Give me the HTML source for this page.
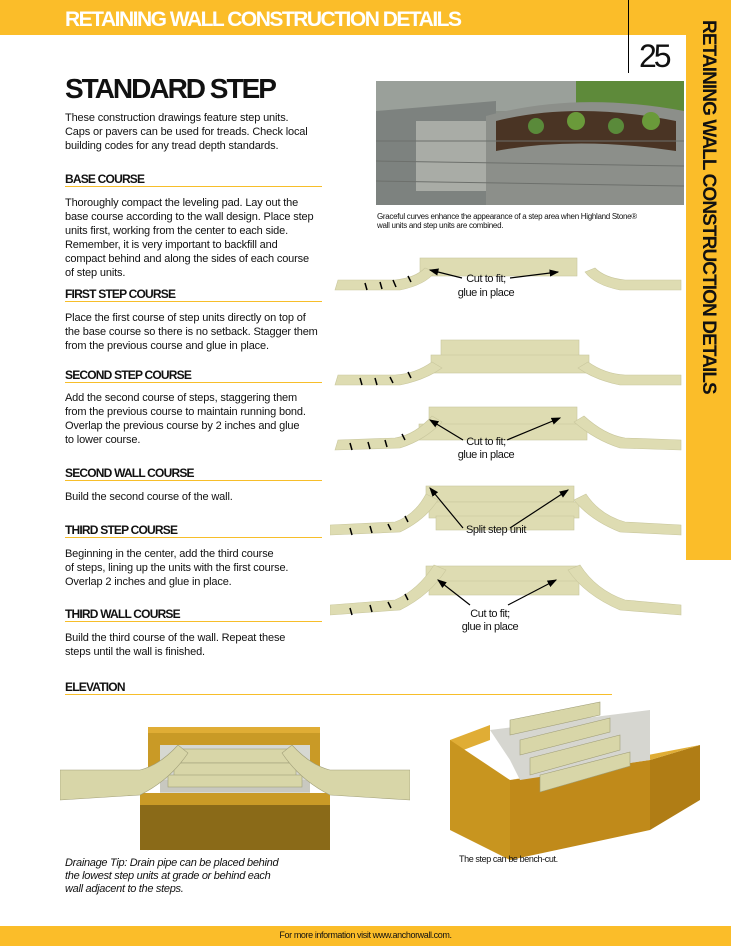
<!DOCTYPE html>
<html><head><meta charset="utf-8">
<style>
*{margin:0;padding:0}
body{width:731px;height:946px;position:relative;background:#fff;font-family:"Liberation Sans",sans-serif;overflow:hidden;color:#111}
.a{position:absolute}
.p{position:absolute;left:65px;font-size:11px;line-height:14px;letter-spacing:-0.15px;white-space:nowrap}
.h{position:absolute;left:65px;font-size:12px;font-weight:bold;letter-spacing:-0.8px;width:257px;border-bottom:1.5px solid #f7be2a;padding-bottom:0}
</style></head><body>
<div class="a" style="left:0;top:0;width:731px;height:35px;background:#fbbd29"></div>
<div class="a" style="left:65px;top:8px;color:#fff;font-size:21px;font-weight:bold;letter-spacing:-1.5px">RETAINING WALL CONSTRUCTION DETAILS</div>
<div class="a" style="left:628px;top:0;width:1px;height:73px;background:#000"></div>
<div class="a" style="left:686px;top:0;width:45px;height:560px;background:#fbbd29"></div>
<div class="a" style="left:686px;top:0;width:45px;height:560px;"><div style="position:absolute;left:33px;top:20px;transform:rotate(90deg);transform-origin:0 0;white-space:nowrap;font-size:19px;font-weight:bold;letter-spacing:-0.9px;color:#111">RETAINING WALL CONSTRUCTION DETAILS</div></div>
<div class="a" style="left:639px;top:38px;font-size:32px;letter-spacing:-3px">25</div>
<div class="a" style="left:65px;top:73px;font-size:28px;font-weight:bold;letter-spacing:-2px">STANDARD STEP</div>
<div class="p" style="top:111px">These construction drawings feature step units.<br>Caps or pavers can be used for treads. Check local<br>building codes for any tread depth standards.</div>
<div class="h" style="top:172px">BASE COURSE</div>
<div class="p" style="top:196px">Thoroughly compact the leveling pad. Lay out the<br>base course according to the wall design. Place step<br>units first, working from the center to each side.<br>Remember, it is very important to backfill and<br>compact behind and along the sides of each course<br>of step units.</div>
<div class="h" style="top:287px">FIRST STEP COURSE</div>
<div class="p" style="top:311px">Place the first course of step units directly on top of<br>the base course so there is no setback. Stagger them<br>from the previous course and glue in place.</div>
<div class="h" style="top:368px">SECOND STEP COURSE</div>
<div class="p" style="top:391px">Add the second course of steps, staggering them<br>from the previous course to maintain running bond.<br>Overlap the previous course by 2 inches and glue<br>to lower course.</div>
<div class="h" style="top:466px">SECOND WALL COURSE</div>
<div class="p" style="top:490px">Build the second course of the wall.</div>
<div class="h" style="top:523px">THIRD STEP COURSE</div>
<div class="p" style="top:547px">Beginning in the center, add the third course<br>of steps, lining up the units with the first course.<br>Overlap 2 inches and glue in place.</div>
<div class="h" style="top:607px">THIRD WALL COURSE</div>
<div class="p" style="top:631px">Build the third course of the wall. Repeat these<br>steps until the wall is finished.</div>
<div class="h" style="top:680px;width:547px">ELEVATION</div>

<svg class="a" style="left:376px;top:81px" width="308" height="124">
<rect width="308" height="124" fill="#8a8f88"/>
<rect width="308" height="30" fill="#9aa09a"/>
<rect x="200" y="0" width="108" height="50" fill="#5e8a3a"/>
<path d="M0 30 L120 20 L120 124 L0 124Z" fill="#7d827f"/>
<path d="M40 40 L110 40 L110 110 L40 110Z" fill="#a9aca6"/>
<path d="M110 35 Q200 10 308 30 L308 124 L110 124Z" fill="#8c8f8a"/>
<path d="M120 40 Q200 20 300 40 L300 70 Q200 55 120 70Z" fill="#4a3424"/>
<circle cx="160" cy="45" r="8" fill="#5a8a3a"/><circle cx="200" cy="40" r="9" fill="#6a9a3a"/><circle cx="240" cy="45" r="8" fill="#5a8a3a"/><circle cx="275" cy="40" r="9" fill="#6a9a3a"/>
<path d="M0 60 L308 60" stroke="#6d706c" stroke-width="1"/><path d="M0 80 L308 85" stroke="#6d706c"/><path d="M0 100 L308 105" stroke="#6d706c"/>
</svg>
<div class="a" style="left:377px;top:212px;font-size:8px;line-height:9px;letter-spacing:-0.3px;white-space:nowrap">Graceful curves enhance the appearance of a step area when Highland Stone®<br>wall units and step units are combined.</div>

<svg class="a" style="left:330px;top:250px" width="356" height="390">
<defs><marker id="ar" markerWidth="8" markerHeight="6" refX="7" refY="3" orient="auto"><path d="M0 0L8 3L0 6Z" fill="#000"/></marker></defs>
<g fill="#dedcb2" stroke="#c9c79d" stroke-width="0.6">
<rect x="90" y="8" width="157" height="18"/>
<path d="M5 40 L70 40 Q95 35 105 22 L95 18 Q85 28 65 30 L8 30Z"/>
<path d="M351 40 L290 40 Q265 35 255 22 L265 18 Q275 28 295 30 L351 30Z"/>
<rect x="111" y="90" width="138" height="16"/><rect x="101" y="105" width="158" height="18"/>
<path d="M5 135 L70 135 Q95 130 112 118 L102 112 Q85 124 65 125 L8 125Z"/>
<path d="M351 135 L290 135 Q265 130 248 118 L258 112 Q275 124 295 125 L351 125Z"/>
<rect x="99" y="157" width="148" height="18"/><rect x="89" y="174" width="168" height="16"/>
<path d="M5 200 L70 198 Q95 190 112 172 L102 166 Q85 185 65 188 L8 190Z"/>
<path d="M351 200 L290 198 Q265 190 244 172 L254 166 Q275 185 295 188 L351 190Z"/>
<rect x="96" y="236" width="148" height="16"/><rect x="99" y="252" width="150" height="16"/><rect x="106" y="266" width="138" height="14"/>
<path d="M0 285 L70 282 Q95 270 108 250 L96 244 Q85 265 65 272 L0 275Z"/>
<path d="M351 285 L290 282 Q260 270 244 250 L256 244 Q270 265 295 272 L351 275Z"/>
<rect x="96" y="316" width="152" height="16"/><rect x="99" y="331" width="150" height="14"/>
<path d="M0 365 L70 360 Q100 345 116 320 L104 315 Q88 340 65 350 L0 355Z"/>
<path d="M351 365 L290 360 Q255 345 238 320 L250 315 Q266 340 295 350 L351 355Z"/>
</g>
<g stroke="#000" stroke-width="1.5">
<path d="M35 33l2 7M50 32l2 7M63 30l3 7M78 26l3 6M30 128l2 7M45 128l2 7M60 127l3 6M78 122l3 6M20 193l2 7M38 192l2 7M55 190l2 7M72 184l3 6M20 278l2 7M40 276l2 7M58 274l3 6M75 266l3 6M20 358l2 7M40 355l2 7M58 352l3 6M75 344l3 6"/>
</g>
<g stroke="#000" stroke-width="1.2" fill="none" marker-end="url(#ar)">
<path d="M132 28 L100 20"/><path d="M180 28 L228 22"/>
<path d="M133 190 L100 170"/><path d="M177 190 L230 168"/>
<path d="M133 278 L100 238"/><path d="M180 278 L238 240"/>
<path d="M140 355 L108 330"/><path d="M178 355 L226 330"/>
</g>
<g font-size="11" text-anchor="middle" letter-spacing="-0.4" fill="#111">
<text x="156" y="32">Cut to fit;</text><text x="156" y="46">glue in place</text>
<text x="156" y="195">Cut to fit;</text><text x="156" y="208">glue in place</text>
<text x="166" y="283">Split step unit</text>
<text x="160" y="367">Cut to fit;</text><text x="160" y="380">glue in place</text>
</g>
</svg>

<svg class="a" style="left:60px;top:725px" width="350" height="125">
<rect x="88" y="5" width="172" height="40" fill="#c99a26"/>
<rect x="88" y="2" width="172" height="6" fill="#e0ad35"/>
<rect x="100" y="20" width="150" height="60" fill="#d6d8d2"/>
<rect x="80" y="68" width="190" height="62" fill="#8a6a18"/>
<rect x="80" y="68" width="190" height="12" fill="#c99a26"/>
<rect x="100" y="55" width="150" height="12" fill="#c8c8c0"/>
<g fill="#d8d6a8" stroke="#a09e78" stroke-width="0.6">
<rect x="120" y="24" width="110" height="14"/><rect x="114" y="38" width="122" height="14"/><rect x="108" y="50" width="134" height="12"/>
<path d="M0 45 L80 45 Q100 40 118 20 L128 28 Q110 55 80 70 L0 75Z"/>
<path d="M350 45 L270 45 Q250 40 232 20 L222 28 Q240 55 270 70 L350 75Z"/>
</g>
</svg>
<div class="a" style="left:65px;top:857px;font-size:11px;line-height:13px;font-style:italic;letter-spacing:-0.3px;white-space:nowrap">Drainage Tip: Drain pipe can be placed behind<br>the lowest step units at grade or behind each<br>wall adjacent to the steps.</div>

<svg class="a" style="left:450px;top:700px" width="250" height="165">
<path d="M0 40 L40 25 L40 40 L0 55Z" fill="#e0ad35"/>
<path d="M0 40 L0 130 L60 160 L60 80 Z" fill="#c8951f"/>
<path d="M60 80 L60 160 L200 130 L200 60Z" fill="#c08a1a"/>
<path d="M200 60 L200 130 L250 100 L250 45Z" fill="#b07d15"/>
<path d="M120 70 L250 45 L200 60 L60 80Z" fill="#e0ad35"/>
<path d="M40 30 L200 10 L200 60 L70 80 L60 60Z" fill="#d6d6d0"/>
<g fill="#d8d6a8" stroke="#a09e78" stroke-width="0.6">
<path d="M60 20 L150 2 L150 15 L60 35Z"/><path d="M70 40 L160 18 L160 32 L70 55Z"/><path d="M80 58 L170 35 L170 50 L80 75Z"/><path d="M90 75 L180 52 L180 66 L90 92Z"/>
</g>
</svg>
<div class="a" style="left:459px;top:854px;font-size:9px;letter-spacing:-0.4px">The step can be bench-cut.</div>

<div class="a" style="left:0;top:926px;width:731px;height:20px;background:#fbbd29"></div>
<div class="a" style="left:0;top:930px;width:731px;text-align:center;font-size:9px;letter-spacing:-0.4px">For more information visit www.anchorwall.com.</div>
</body></html>
